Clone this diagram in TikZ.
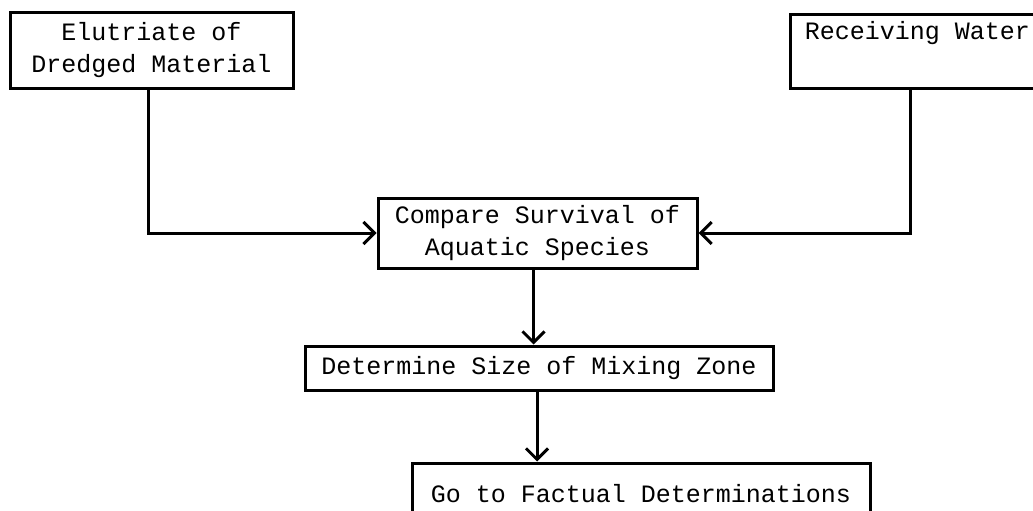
\documentclass[tikz,border=0pt]{standalone}
\usepackage{fontspec}
\setmonofont{Liberation Mono}
\usetikzlibrary{arrows.meta}
\tikzset{
  box/.style={draw=black, line width=3pt, inner sep=0pt, align=center,
    font=\ttfamily\fontsize{25}{32}\selectfont},
  conn/.style={draw=black, line width=3pt},
  arr/.style={conn, -{Straight Barb[length=11pt,width=22pt,line width=3pt]}}
}
\begin{document}
\begin{tikzpicture}[x=1pt,y=-1pt]
\useasboundingbox (0,0) rectangle (1033,511);
\clip (0,0) rectangle (1033,511);
\node[box, minimum width=283pt, minimum height=75pt] (b1) at (151.5,50.5) {Elutriate of\\Dredged Material};
\node[box, minimum width=255pt, minimum height=73pt] (b2) at (917.5,51.5) {Receiving Water\\\strut};
\node[box, minimum width=319pt, minimum height=70pt] (b3) at (537.5,233) {Compare Survival of\\Aquatic Species};
\node[box, minimum width=468pt, minimum height=44pt] (b4) at (539,368) {Determine Size of Mixing Zone};
\node[box, minimum width=458pt, minimum height=62pt] (b5) at (641,494) {Go to Factual Determinations};
\coordinate (b2s) at ([xshift=-7.5pt]b2.south);
\draw[arr] ([xshift=-3pt]b1.south) |- (b3.west);
\draw[arr] (b2s) |- (b3.east);
\draw[arr] ([xshift=-4pt]b3.south) -- ([xshift=-4pt]b3.south |- b4.north);
\draw[arr] ([xshift=-2pt]b4.south) -- ([xshift=-2pt]b4.south |- b5.north);
\end{tikzpicture}
\end{document}
